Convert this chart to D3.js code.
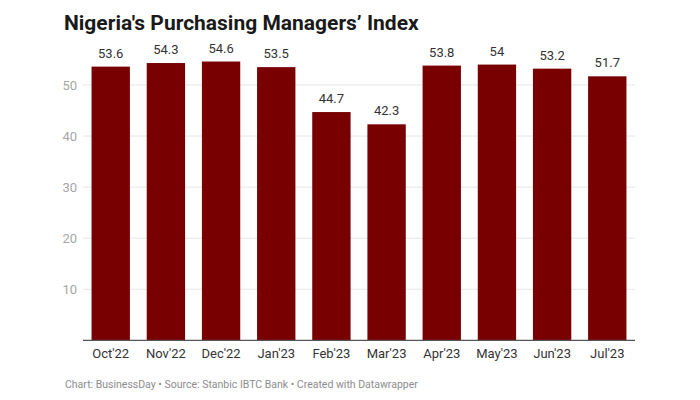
<!DOCTYPE html>
<html><head><meta charset="utf-8">
<script src="https://cdn.jsdelivr.net/npm/d3@7"></script>
<style>body{margin:0;background:#fff;font-family:Roboto,sans-serif}</style>
</head><body><svg id="c" width="700" height="400"></svg>
<script>
const categories = ["Oct'22","Nov'22","Dec'22","Jan'23","Feb'23","Mar'23","Apr'23","May'23","Jun'23","Jul'23"];
const values = [53.6,54.3,54.6,53.5,44.7,42.3,53.8,54,53.2,51.7];
const yTicks = [10,20,30,40,50];

const svg = d3.select("#c");
const x = d3.scaleBand().domain(categories).range([83,635]).paddingInner(0.305).paddingOuter(0.155);
const y = d3.scaleLinear().domain([0,50]).range([340.3,85]);

svg.append("text").attr("x",64).attr("y",30).attr("font-size",21).attr("font-weight",700)
  .attr("fill","#1a1a1a").text("Nigeria's Purchasing Managers\u2019 Index");

const g = svg.append("g");
g.selectAll("line.grid").data(yTicks).join("line").attr("class","grid")
  .attr("x1",83).attr("x2",635).attr("y1",d=>y(d)).attr("y2",d=>y(d))
  .attr("stroke","#e5e5e5").attr("stroke-width",1);
g.selectAll("text.yt").data(yTicks).join("text").attr("class","yt")
  .attr("x",77).attr("y",d=>y(d)+4.5).attr("text-anchor","end")
  .attr("font-size",13).attr("fill","#a6a6a6").text(d=>d);

g.selectAll("rect").data(values).join("rect")
  .attr("x",(d,i)=>x(categories[i])).attr("width",x.bandwidth())
  .attr("y",d=>y(d)).attr("height",d=>y(0)-y(d)).attr("fill","#780000");

g.selectAll("text.val").data(values).join("text").attr("class","val")
  .attr("x",(d,i)=>x(categories[i])+x.bandwidth()/2).attr("y",d=>y(d)-9)
  .attr("text-anchor","middle").attr("font-size",13).attr("fill","#333").text(d=>d);

g.append("line").attr("x1",83).attr("x2",635).attr("y1",y(0)).attr("y2",y(0))
  .attr("stroke","#555").attr("stroke-width",1.2);

g.selectAll("text.xt").data(categories).join("text").attr("class","xt")
  .attr("x",d=>x(d)+x.bandwidth()/2).attr("y",357.5).attr("text-anchor","middle")
  .attr("font-size",13).attr("fill","#333").text(d=>d);

svg.append("text").attr("x",65).attr("y",387.5).attr("font-size",10.5).attr("fill","#8c8c8c")
  .text("Chart: BusinessDay \u2022 Source: Stanbic IBTC Bank \u2022 Created with Datawrapper");
</script></body></html>
